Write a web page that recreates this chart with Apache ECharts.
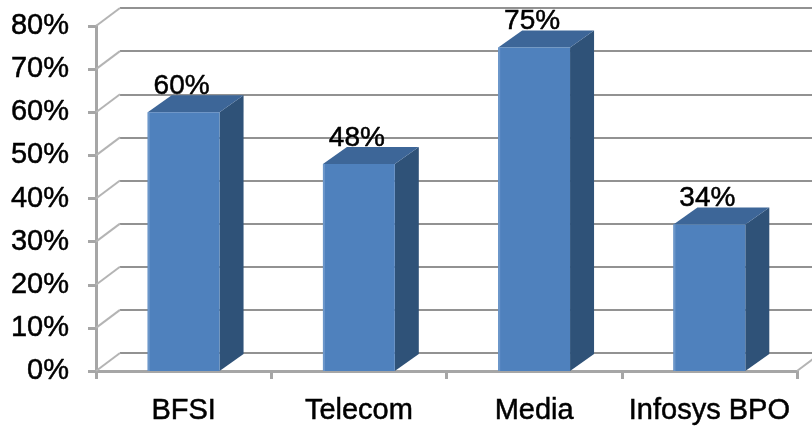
<!DOCTYPE html>
<html><head><meta charset="utf-8">
<script src="https://cdn.jsdelivr.net/npm/echarts@6/dist/echarts.min.js"></script>
<style>html,body{margin:0;padding:0;background:#fff}#c{width:812px;height:428px}</style>
</head><body><div id="c"></div>
<script>
var categories = ['BFSI', 'Telecom', 'Media', 'Infosys BPO'];
var values = [60, 48, 75, 34];
var tickValues = [0, 10, 20, 30, 40, 50, 60, 70, 80];

var DX = 24, DY = -18;       // wall depth offset
var BDX = 24, BDY = -17;     // bar depth offset
var FONT = '"Liberation Sans", Arial, sans-serif';

var chart = echarts.init(document.getElementById('c'), null, {renderer: 'canvas'});

var option = {
  backgroundColor: '#ffffff',
  animation: false,
  grid: [
    {left: 96, right: 15, top: 26, bottom: 57},
    {left: 96 + DX, right: 15 - DX, top: 26 + DY, bottom: 57 - DY}
  ],
  xAxis: [
    {
      gridIndex: 0, type: 'category', data: categories, boundaryGap: true,
      axisLine: {show: true, lineStyle: {color: '#a6a6a6', width: 3}},
      axisTick: {show: true, length: 8, lineStyle: {color: '#a6a6a6', width: 3}},
      axisLabel: {color: '#000', fontSize: 29, fontFamily: FONT, margin: 25, interval: 0,
        textBorderColor: '#000', textBorderWidth: 0.5},
      splitLine: {show: false}
    },
    {
      gridIndex: 1, type: 'category', data: categories, show: false
    }
  ],
  yAxis: [
    {
      gridIndex: 0, type: 'value', min: 0, max: 80, interval: 10,
      axisLine: {show: true, lineStyle: {color: '#a6a6a6', width: 3}},
      axisTick: {show: true, length: 8, lineStyle: {color: '#a6a6a6', width: 3}},
      axisLabel: {color: '#000', fontSize: 29, fontFamily: FONT, margin: 27,
        textBorderColor: '#000', textBorderWidth: 0.5,
        formatter: function (v) { return v + '%'; }},
      splitLine: {show: false}
    },
    {
      gridIndex: 1, type: 'value', min: 0, max: 80, interval: 10,
      axisLine: {show: false}, axisTick: {show: false}, axisLabel: {show: false},
      splitLine: {show: true, lineStyle: {color: '#929292', width: 2}}
    }
  ],
  series: [
    {
      type: 'custom', xAxisIndex: 0, yAxisIndex: 0, z: 1,
      data: tickValues.map(function (v) { return [0, v]; }),
      renderItem: function (params, api) {
        var cs = params.coordSys;
        var y = api.coord([0, api.value(1)])[1];
        var x0 = cs.x;
        var children = [{
          type: 'line',
          shape: {x1: x0, y1: y, x2: x0 + DX, y2: y + DY},
          style: {stroke: '#b4b4b4', lineWidth: 2}
        }];
        if (api.value(1) === 0) {
          var xr = cs.x + cs.width;
          children.push({
            type: 'line',
            shape: {x1: xr, y1: y, x2: xr + DX, y2: y + DY},
            style: {stroke: '#b4b4b4', lineWidth: 2}
          });
        }
        return {type: 'group', children: children};
      },
      silent: true
    },
    {
      type: 'custom', xAxisIndex: 0, yAxisIndex: 0, z: 5,
      data: values.map(function (v, i) { return [i, v]; }),
      renderItem: function (params, api) {
        var i = api.value(0), v = api.value(1);
        var top = api.coord([i, v]);
        var base = api.coord([i, 0]);
        var bw = api.size([1, 0])[0] * 0.41;
        var xl = top[0] - bw / 2, xr = top[0] + bw / 2;
        var yt = top[1], yb = base[1];
        return {
          type: 'group',
          children: [
            {type: 'polygon', shape: {points: [[xr, yt], [xr + BDX, yt + BDY], [xr + BDX, yb + BDY], [xr, yb]]},
             style: {fill: '#2f5278'}},
            {type: 'polygon', shape: {points: [[xl, yt], [xl + BDX, yt + BDY], [xr + BDX, yt + BDY], [xr, yt]]},
             style: {fill: '#3d6698'}},
            {type: 'rect', shape: {x: xl, y: yt, width: bw, height: yb - yt},
             style: {fill: '#4f81bd'}},
            {type: 'rect', shape: {x: xl, y: yt, width: 2, height: yb - yt},
             style: {fill: '#6b96c9'}},
            {type: 'text', x: top[0] - 2, y: yt + BDY + 5,
             style: {text: v + '%', fill: '#000', font: '28px ' + FONT, align: 'center', verticalAlign: 'bottom',
                     stroke: '#000', lineWidth: 0.5}}
          ]
        };
      }
    }
  ]
};
chart.setOption(option);
</script>
</body></html>
